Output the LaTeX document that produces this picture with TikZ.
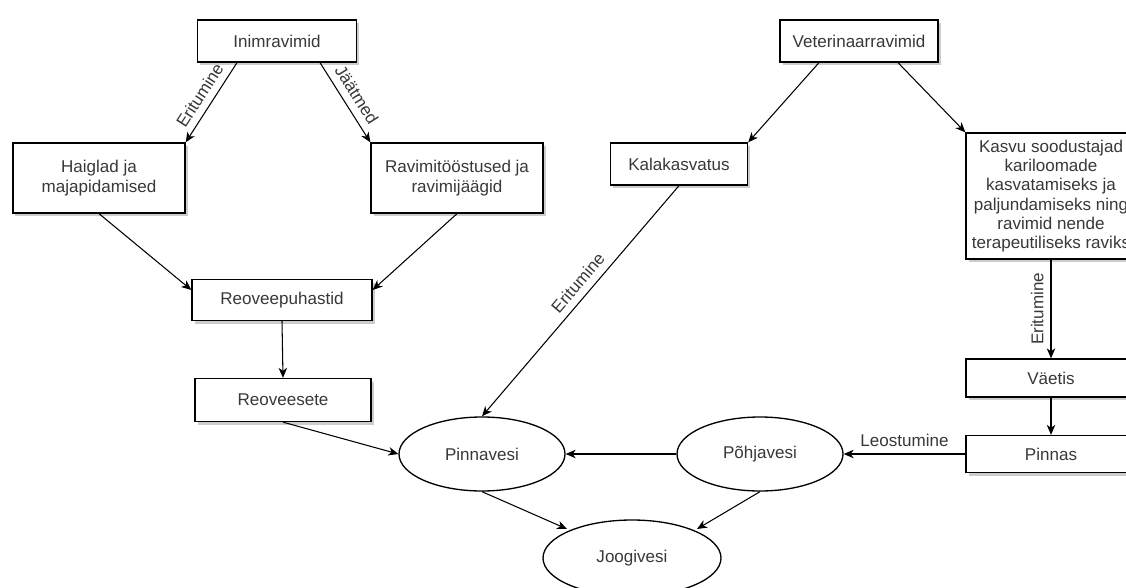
\documentclass[tikz,border=0pt]{standalone}
\usepackage{fontspec}
\setmainfont{Liberation Sans}
\usetikzlibrary{arrows.meta,shapes.geometric,shadows,calc}
\begin{document}
\begin{tikzpicture}[x=0.02cm,y=-0.02cm,
  every node/.style={font=\fontsize{9.7pt}{11pt}\selectfont, text=black!78},
  box/.style={draw=black, line width=0.75pt, fill=white, inner sep=0pt, align=center,
    drop shadow={shadow xshift=0.05cm, shadow yshift=-0.06cm, opacity=0.2, fill=black}},
  oval/.style={draw=black, line width=0.75pt, fill=white, ellipse, inner sep=0pt},
  sz/.style 2 args={minimum width=#1*0.02cm, minimum height=#2*0.02cm},
  conn/.style={draw=black, line width=0.6pt, -{Stealth[length=0.2cm,width=0.17cm,inset=0.06cm]}},
  lbl/.style={sloped, above, inner sep=4pt}
]
\useasboundingbox (0,0) rectangle (1126,588);
\fill[white] (0,0) rectangle (1126,588);
\clip (0,0) rectangle (1126,588);

% boxes
\node[box, sz={159}{42}] (ini) at (277,41) {Inimravimid};
\node[box, sz={172}{70}] (hai) at (99,178) {Haiglad ja\\majapidamised};
\node[box, sz={172}{70}] (rav) at (457,178) {Ravimitööstused ja\\ravimijäägid};
\node[box, sz={180}{41}] (reo) at (282,300) {Reoveepuhastid};
\node[box, sz={176}{43}] (res) at (283,400) {Reoveesete};
\node[box, sz={158}{42}] (vet) at (859,41) {Veterinaarravimid};
\node[box, sz={137}{42}] (kal) at (679,164) {Kalakasvatus};
\node[box, sz={170}{126}] (kas) at (1051,196) {Kasvu soodustajad\\kariloomade\\kasvatamiseks ja\\paljundamiseks ning\\ravimid nende\\terapeutiliseks raviks};
\node[box, sz={170}{38}] (vae) at (1051,378) {Väetis};
\node[box, sz={170}{37}] (pin) at (1051,454) {Pinnas};

% ellipses
\node[oval, sz={166}{74}] (pv) at (482,454) {Pinnavesi};
\node[oval, sz={166}{74}] (ph) at (760,454) {Põhjavesi};
\node[oval, sz={178}{76}] (jo) at (632,558) {Joogivesi};

% connectors
\draw[conn] ($(ini.south)+(-40,0)$) -- (hai.north east) node[lbl, midway] {Eritumine};
\draw[conn] ($(ini.south)+(43,0)$) -- (rav.north west) node[lbl, midway] {Jäätmed};
\draw[conn] (hai.south) -- ($(reo.west)+(0,-10)$);
\draw[conn] (rav.south) -- ($(reo.east)+(0,-10)$);
\draw[conn] (reo.south) -- (res.north);
\draw[conn] (res.south) -- (pv.west);
\draw[conn] ($(vet.south)+(-40,0)$) -- (kal.north east);
\draw[conn] ($(vet.south)+(39,0)$) -- (kas.north west);
\draw[conn] (kal.south) -- (pv.north) node[lbl, pos=0.46] {Eritumine};
\draw[conn] (kas.south) -- (vae.north) node[midway, rotate=90, anchor=south, inner sep=4pt] {Eritumine};
\draw[conn] (vae.south) -- (pin.north);
\draw[conn] (pin.west) -- (ph.east) node[lbl, midway] {Leostumine};
\draw[conn] (ph.west) -- (pv.east);
\draw[conn] (pv.south) -- ($(jo.center)+(-65,-29)$);
\draw[conn] (ph.south) -- ($(jo.center)+(65,-29)$);
\end{tikzpicture}
\end{document}
